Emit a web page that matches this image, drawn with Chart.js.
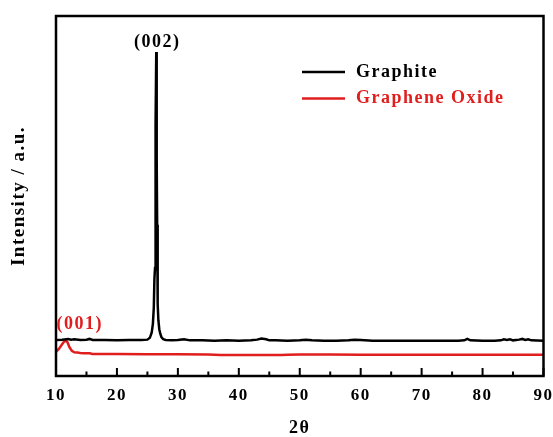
<!DOCTYPE html>
<html>
<head>
<meta charset="utf-8">
<title>XRD</title>
<script src="https://cdn.jsdelivr.net/npm/chart.js@4.4.0/dist/chart.umd.min.js"></script>
<style>
body { margin: 0; background: #fff; }
</style>
</head>
<body>
<canvas id="xrdChart" width="553" height="437"></canvas>
<script>
// values, intensity in arbitrary units (0 - 100)
var graphiteX = [10, 11, 12, 12.5, 13, 14, 15, 15.5, 16, 18, 20, 22, 24, 25, 25.4, 25.7, 25.9, 26.05, 26.15, 26.25, 26.3, 26.38, 26.45, 26.5, 26.55, 26.6, 26.65, 26.72, 26.8, 26.95, 27.1, 27.3, 27.6, 28, 29, 30, 31, 32, 34, 36, 38, 40, 42, 43, 43.7, 44.5, 45, 46, 48, 50, 51, 52, 54, 56, 58, 59, 60, 62, 64, 66, 68, 70, 72, 74, 76, 77, 77.5, 78, 80, 82, 83, 83.5, 84, 84.5, 85, 86, 86.5, 87, 87.5, 88, 90];
var graphiteY = [10.0, 10.1, 10.3, 10.1, 10.2, 10.0, 10.1, 10.3, 10.0, 10.0, 9.9, 10.0, 10.0, 10.1, 10.6, 12.0, 14.5, 19, 27, 30, 58, 70, 90, 88, 60, 42, 30, 20, 15.5, 13, 11.8, 10.8, 10.2, 10.0, 9.9, 10.0, 10.2, 9.9, 9.9, 9.8, 9.9, 9.8, 9.9, 10.1, 10.4, 10.2, 9.9, 9.9, 9.8, 9.9, 10.1, 9.9, 9.8, 9.8, 9.9, 10.1, 10.0, 9.8, 9.8, 9.8, 9.8, 9.8, 9.8, 9.8, 9.8, 9.9, 10.3, 9.9, 9.8, 9.8, 9.9, 10.2, 10.0, 10.2, 9.9, 10.1, 10.3, 10.0, 10.2, 9.9, 9.8];

var goX = [10, 10.5, 11, 11.3, 11.6, 11.9, 12.2, 12.6, 13, 13.5, 14, 14.5, 15, 15.5, 16, 18, 20, 25, 30, 35, 37, 38, 40, 42, 44, 46, 47, 48, 50, 55, 60, 65, 70, 75, 80, 85, 90];
var goY = [6.7, 7.6, 8.8, 9.5, 9.9, 9.3, 8.0, 7.0, 6.6, 6.5, 6.4, 6.35, 6.3, 6.3, 6.1, 6.1, 6.1, 6.05, 6.05, 6.0, 5.85, 5.8, 5.85, 5.8, 5.85, 5.8, 5.85, 5.9, 5.95, 5.95, 5.9, 5.9, 5.9, 5.9, 5.9, 5.9, 5.9];

var xTickValues = [10, 20, 30, 40, 50, 60, 70, 80, 90];

// peak labels: text, position, which dataset
var peakNames = ["(002)", "(001)"];
var peakX = [26.45, 11.6];
var peakY = [90, 9.8];
var peakSeries = [0, 1];

var serif = "'Liberation Serif', 'Times New Roman', serif";

function toPoints(xs, ys) {
	var pts = [];
	for (var i = 0; i < xs.length; i++) {
		pts.push({x: xs[i], y: ys[i]});
	}
	return pts;
}

//frame, inward ticks, legend and peak labels
var decoPlugin = {
	id: 'deco',
	beforeDraw: function(chart) {
		chart.ctx.letterSpacing = '1.5px';
	},
	afterDraw: function(chart) {
		var ctx = chart.ctx;
		var a = chart.chartArea;
		var xs = chart.scales.x;
		var ys = chart.scales.y;
		ctx.save();
		ctx.strokeStyle = '#000';
		ctx.lineWidth = 2.5;
		ctx.strokeRect(a.left, a.top, a.right - a.left, a.bottom - a.top);

		ctx.lineWidth = 2;
		ctx.beginPath();
		for (var i = 0; i < xs.ticks.length; i++) {
			var px = xs.getPixelForValue(xs.ticks[i].value);
			ctx.moveTo(px, a.bottom);
			ctx.lineTo(px, a.bottom - 8);
			if (i < xs.ticks.length - 1) {
				var mid = xs.getPixelForValue((xs.ticks[i].value + xs.ticks[i + 1].value) / 2);
				ctx.moveTo(mid, a.bottom);
				ctx.lineTo(mid, a.bottom - 4.5);
			}
		}
		ctx.stroke();

		// legend
		ctx.font = 'bold 18px ' + serif;
		ctx.textBaseline = 'middle';
		ctx.textAlign = 'left';
		chart.data.datasets.forEach(function(ds, k) {
			var ly = a.top + 56 + k * 26.6;
			ctx.strokeStyle = ds.borderColor;
			ctx.lineWidth = 2.5;
			ctx.beginPath();
			ctx.moveTo(302, ly);
			ctx.lineTo(345, ly);
			ctx.stroke();
			ctx.fillStyle = ds.borderColor;
			ctx.fillText(ds.label, 356, ly);
		});

		// peak labels
		ctx.textAlign = 'center';
		for (var j = 0; j < peakNames.length; j++) {
			var col = chart.data.datasets[peakSeries[j]].borderColor;
			var dx = j === 0 ? 1 : 14;
			var dy = j === 0 ? -10 : -16;
			ctx.fillStyle = col;
			ctx.fillText(peakNames[j], xs.getPixelForValue(peakX[j]) + dx, ys.getPixelForValue(peakY[j]) + dy);
		}
		ctx.restore();
	}
};

var ctx = document.getElementById('xrdChart');

var xrdChart = new Chart(ctx, {
	type: 'line',
	data: {
		datasets: [
			{
				label: 'Graphite',
				data: toPoints(graphiteX, graphiteY),
				borderColor: '#000000',
				borderWidth: 2.5,
				pointRadius: 0,
				tension: 0
			},
			{
				label: 'Graphene Oxide',
				data: toPoints(goX, goY),
				borderColor: '#e01e1e',
				borderWidth: 2.5,
				pointRadius: 0,
				tension: 0
			}
		]
	},
	options: {
		responsive: false,
		animation: false,
		layout: {
			autoPadding: false,
			padding: {left: 5, right: 2, top: 16, bottom: 0}
		},
		plugins: {
			legend: {display: false},
			tooltip: {enabled: false}
		},
		scales: {
			x: {
				type: 'linear',
				min: 10,
				max: 90,
				afterBuildTicks: function(s) {
					s.ticks = xTickValues.map(function(v) { return {value: v}; });
				},
				afterFit: function(s) { s.height = 61; },
				grid: {display: false},
				border: {display: false},
				ticks: {
					color: '#000',
					autoSkip: false,
					maxRotation: 0,
					padding: 1,
					font: {family: serif, size: 17, weight: 'bold'}
				},
				title: {
					display: true,
					text: '2θ',
					color: '#000',
					padding: {top: 0, bottom: 0},
					font: {family: serif, size: 18, weight: 'bold', lineHeight: 1}
				}
			},
			y: {
				min: 0,
				max: 100,
				afterFit: function(s) { s.width = 51; },
				grid: {display: false},
				border: {display: false},
				ticks: {display: false},
				title: {
					display: true,
					text: 'Intensity / a.u.',
					color: '#000',
					padding: {top: 4, bottom: 4},
					font: {family: serif, size: 19, weight: 'bold', lineHeight: 1.1}
				}
			}
		}
	},
	plugins: [decoPlugin]
});
</script>
</body>
</html>
